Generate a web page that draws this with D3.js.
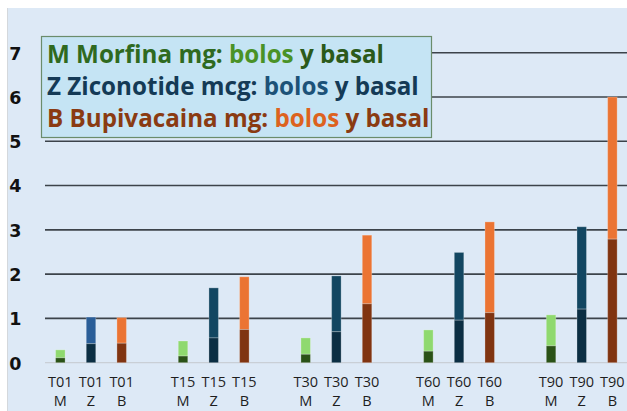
<!DOCTYPE html>
<html>
<head>
<meta charset="utf-8">
<script src="https://cdn.jsdelivr.net/npm/d3@7"></script>
<style>
  html, body { margin: 0; padding: 0; background: #ffffff; }
  svg { display: block; }
</style>
</head>
<body>
<svg id="chart" width="627" height="411"></svg>
<script>
// Time points and drugs (M = Morfina, Z = Ziconotide, B = Bupivacaina)
const timePoints = ["T01", "T15", "T30", "T60", "T90"];
const drugs = ["M", "Z", "B"];

// Basal dose (lower, darker segment) per time point, per drug
const basalM = [0.11, 0.15, 0.19, 0.26, 0.38];
const basalZ = [0.43, 0.56, 0.70, 0.96, 1.21];
const basalB = [0.44, 0.75, 1.33, 1.13, 2.79];

// Total dose (bolos + basal) per time point, per drug
const totalM = [0.29, 0.49, 0.56, 0.74, 1.08];
const totalZ = [1.03, 1.69, 1.96, 2.49, 3.07];
const totalB = [1.02, 1.94, 2.88, 3.18, 6.00];

const yTicks = [0, 1, 2, 3, 4, 5, 6, 7];

const legendLines = [
  [["M Morfina mg: ", "#2f6a1f"], ["bolos", "#4a9226"], [" y basal", "#2b5a1a"]],
  [["Z Ziconotide mcg: ", "#143a56"], ["bolos", "#1c5278"], [" y basal", "#143a56"]],
  [["B Bupivacaina mg: ", "#8a3b12"], ["bolos", "#dd621e"], [" y basal", "#8a3b12"]]
];

const colors = {
  M: { basal: "#2a5217", bolos: "#8fd96f" },
  Z: { basal: "#0b2e43", bolos: "#124661" },
  B: { basal: "#803411", bolos: "#eb7433" }
};
const firstZBolos = "#2a5e98";

const basal = { M: basalM, Z: basalZ, B: basalB };
const total = { M: totalM, Z: totalZ, B: totalB };

// Slots along x: three bars per time point, with an empty slot between groups
const slots = [];
timePoints.forEach((t, i) => {
  drugs.forEach(d => slots.push(t + "-" + d));
  if (i < timePoints.length - 1) slots.push("gap-" + i);
});

const bars = [];
timePoints.forEach((t, i) => {
  drugs.forEach(d => {
    bars.push({ t, d, i, slot: t + "-" + d, basal: basal[d][i], total: total[d][i] });
  });
});

const svg = d3.select("#chart");
const W = 627, H = 411;

// panel background
svg.append("rect").attr("x", 7).attr("y", 8).attr("width", W - 7).attr("height", H - 8)
  .attr("fill", "#dde9f6");
svg.append("line").attr("x1", 7.5).attr("x2", 7.5).attr("y1", 8).attr("y2", H)
  .attr("stroke", "#d4d8dc").attr("stroke-width", 1);

const x = d3.scaleBand().domain(slots).range([45, 45 + slots.length * 30.67]).padding(0);
const y = d3.scaleLinear().domain([0, 7]).range([362.7, 52.7]);

// gridlines
svg.append("g").selectAll("line").data(yTicks).join("line")
  .attr("x1", 45).attr("x2", W)
  .attr("y1", d => y(d)).attr("y2", d => y(d))
  .attr("stroke", d => d === 0 ? "#c9cfd6" : "#3c434a")
  .attr("stroke-width", d => d === 0 ? 1.2 : 1.6);

// y tick labels
const yAxis = d3.axisLeft(y).tickValues(yTicks).tickSize(0).tickPadding(0).tickFormat(d3.format("d"));
const gy = svg.append("g").attr("transform", "translate(21.5,0)").call(yAxis);
gy.select(".domain").remove();
gy.attr("font-size", null).attr("font-family", null);
gy.selectAll("text")
  .style("font-family", "'DejaVu Sans', sans-serif")
  .style("font-weight", "bold").style("font-size", "17.5px").attr("fill", "#111")
  .attr("dy", "0.36em");

// bars
const bw = 9.5;
const g = svg.append("g");
bars.forEach(b => {
  const cx = x(b.slot) + x.bandwidth() / 2;
  const upper = (b.d === "Z" && b.i === 0) ? firstZBolos : colors[b.d].bolos;
  g.append("rect")
    .attr("x", cx - bw / 2).attr("width", bw)
    .attr("y", y(b.total)).attr("height", y(b.basal) - y(b.total))
    .attr("fill", upper)
    .attr("stroke", "rgba(255,255,255,0.25)").attr("stroke-width", 1);
  g.append("rect")
    .attr("x", cx - bw / 2).attr("width", bw)
    .attr("y", y(b.basal)).attr("height", y(0) - y(b.basal))
    .attr("fill", colors[b.d].basal)
    .attr("stroke", "rgba(255,255,255,0.25)").attr("stroke-width", 1);
});

// x labels (two lines)
const xl = svg.append("g");
bars.forEach(b => {
  const cx = x(b.slot) + x.bandwidth() / 2;
  const txt = xl.append("text").attr("text-anchor", "middle")
    .style("font-family", "'Open Sans', sans-serif").style("font-size", "14.5px").attr("fill", "#1e1e1e");
  txt.append("tspan").attr("x", cx).attr("y", 387).text(b.t);
  txt.append("tspan").attr("x", cx).attr("y", 406).text(b.d);
});

// legend box
svg.append("rect").attr("x", 41.5).attr("y", 36.5).attr("width", 390).attr("height", 101)
  .attr("fill", "#c5e4f4").attr("stroke", "#6b8c6b").attr("stroke-width", 1.2);
const legendY = [63, 95, 127];
legendLines.forEach((parts, k) => {
  const t = svg.append("text").attr("x", 47).attr("y", legendY[k])
    .style("font-family", "'Open Sans', sans-serif").style("font-weight", "bold")
    .style("font-size", "24.2px").style("white-space", "pre");
  parts.forEach(([s, c]) => t.append("tspan").attr("fill", c).text(s));
});
</script>
</body>
</html>
